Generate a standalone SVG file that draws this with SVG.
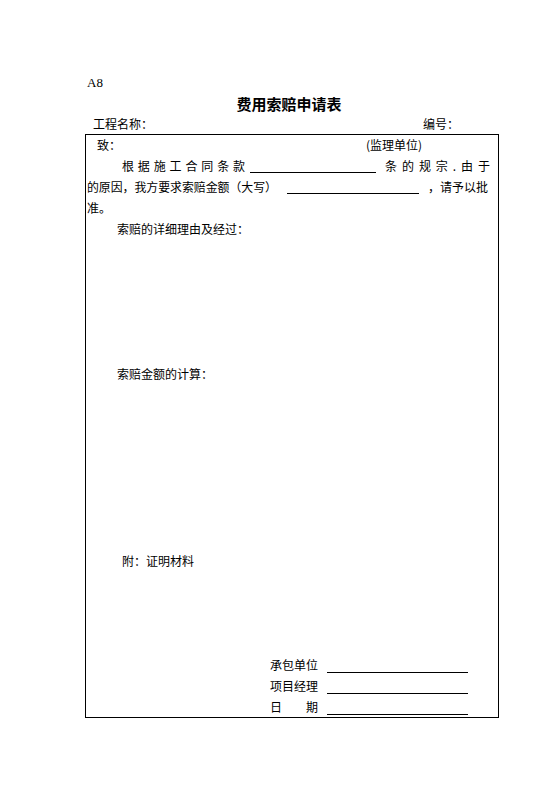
<svg xmlns="http://www.w3.org/2000/svg" width="559" height="794" viewBox="0 0 559 794">
<style>
.t{font-family:"Noto Sans CJK SC","Liberation Sans",sans-serif;font-size:12px;fill:#000}
.u{stroke:#000;stroke-width:1}
</style>
<rect width="559" height="794" fill="#fff"/>
<text x="87" y="87" font-family="Liberation Serif,serif" font-size="13" fill="#000">A8</text>
<text x="289" y="110" text-anchor="middle" font-family="Noto Sans CJK SC,sans-serif" font-size="15" font-weight="bold" fill="#000">费用索赔申请表</text>
<text class="t" x="93" y="129">工程名称：</text>
<text class="t" x="423" y="129">编号：</text>
<g id="form">
<rect x="85.5" y="134.5" width="413" height="583" fill="none" stroke="#000" stroke-width="1"/>
</g>
<g id="body">
<text class="t" x="97" y="150">致：</text>
<text class="t" x="366" y="150">(监理单位)</text>
<text class="t" x="122" y="171" textLength="123" lengthAdjust="spacing">根据施工合同条款</text>
<line class="u" x1="250" y1="172.5" x2="376" y2="172.5"/>
<text class="t" x="385" y="171" textLength="105" lengthAdjust="spacing">条的规宗.由于</text>
<text class="t" x="87" y="192" textLength="190" lengthAdjust="spacingAndGlyphs">的原因，我方要求索赔金额（大写）</text>
<line class="u" x1="287" y1="193.5" x2="419" y2="193.5"/>
<text class="t" x="428" y="192">，请予以批</text>
<text class="t" x="87" y="213">准。</text>
<text class="t" x="117" y="234">索赔的详细理由及经过：</text>
<text class="t" x="117" y="379">索赔金额的计算：</text>
<text class="t" x="122" y="566">附：证明材料</text>
<text class="t" x="270" y="670">承包单位</text>
<line class="u" x1="327" y1="672.5" x2="468" y2="672.5"/>
<text class="t" x="270" y="691">项目经理</text>
<line class="u" x1="327" y1="693.5" x2="468" y2="693.5"/>
<text class="t" x="270" y="712">日</text>
<text class="t" x="306" y="712">期</text>
<line class="u" x1="327" y1="714.5" x2="468" y2="714.5"/>
</g>
</svg>
